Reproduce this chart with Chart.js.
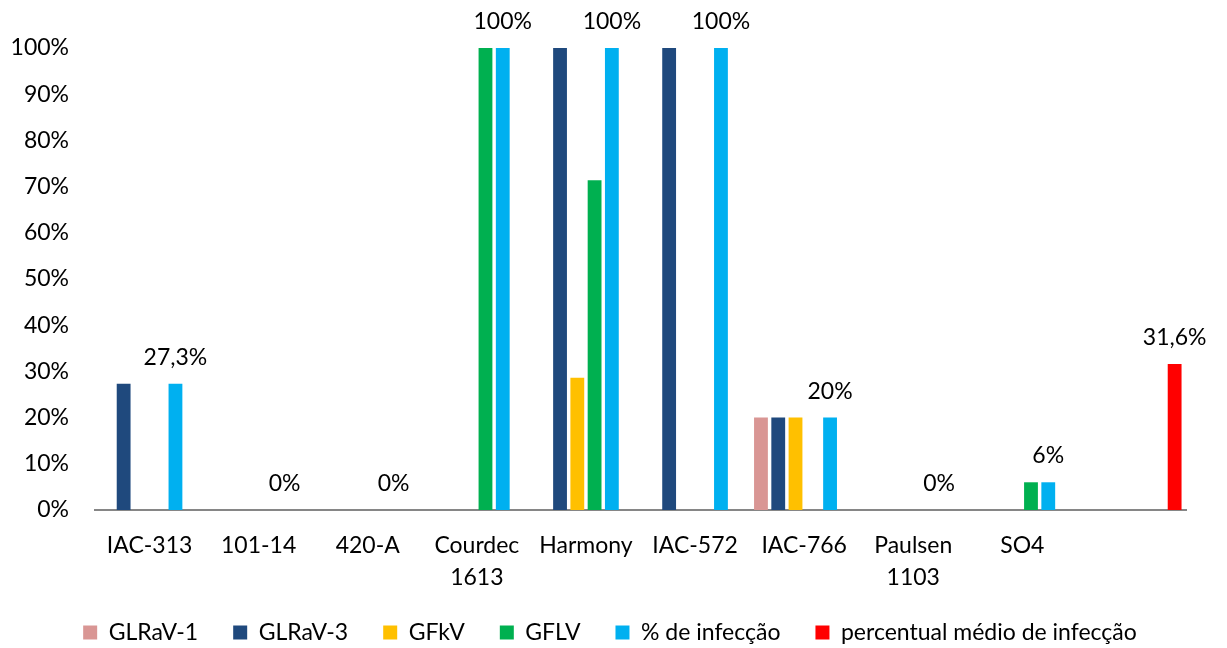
<!DOCTYPE html>
<html>
<head>
<meta charset="utf-8">
<script src="https://cdn.jsdelivr.net/npm/chart.js@4/dist/chart.umd.min.js"></script>
<style>
  body { margin: 0; background: #fff; }
</style>
</head>
<body>
<canvas id="myChart" width="1227" height="648"></canvas>
<script>
// Dados do gráfico
var categorias = ['IAC-313', '101-14', '420-A', ['Courdec', '1613'], 'Harmony', 'IAC-572', 'IAC-766', ['Paulsen', '1103'], 'SO4', ''];
var glrav1 = [null, null, null, null, null, null, 20, null, null, null];
var glrav3 = [27.3, null, null, null, 100, 100, 20, null, null, null];
var gfkv = [null, null, null, null, 28.6, null, 20, null, null, null];
var gflv = [null, null, null, 100, 71.4, null, null, null, 6, null];
var infeccao = [27.3, 0, 0, 100, 100, 100, 20, 0, 6, null];
var mediaInfeccao = [null, null, null, null, null, null, null, null, null, 31.6];
var yTicks = [0, 10, 20, 30, 40, 50, 60, 70, 80, 90, 100];

var fonte = 'Lato, "Open Sans", sans-serif';

// Rótulos de dados acima das barras de infecção
var rotulos = {
    id: 'rotulos',
    afterLayout: function (chart) {
        // legenda um pouco deslocada para a direita, como no original
        chart.legend.left += 12;
        chart.legend.right += 12;
    },
    afterDatasetsDraw: function (chart) {
        var ctx = chart.ctx;
        ctx.save();
        ctx.font = '23px ' + fonte;
        ctx.fillStyle = '#000';
        ctx.textAlign = 'center';
        ctx.textBaseline = 'alphabetic';
        [4, 5].forEach(function (di) {
            var meta = chart.getDatasetMeta(di);
            var dados = chart.data.datasets[di].data;
            meta.data.forEach(function (el, i) {
                if (dados[i] === null) return;
                var txt = String(dados[i]).replace('.', ',') + '%';
                ctx.fillText(txt, el.x, el.y - 19);
            });
        });
        ctx.restore();
    }
};

var config = {
    type: 'bar',
    data: {
        labels: categorias,
        datasets: [
            { label: 'GLRaV-1', data: glrav1, backgroundColor: '#D99694' },
            { label: 'GLRaV-3', data: glrav3, backgroundColor: '#1F497D' },
            { label: 'GFkV', data: gfkv, backgroundColor: '#FFC000' },
            { label: 'GFLV', data: gflv, backgroundColor: '#00B050' },
            { label: '% de infecção', data: infeccao, backgroundColor: '#00B0F0' },
            { label: 'percentual médio de infecção', data: mediaInfeccao, backgroundColor: '#FF0000' }
        ]
    },
    options: {
        responsive: false,
        animation: false,
        barPercentage: 0.8,
        categoryPercentage: 0.95,
        layout: { padding: { left: 10, right: 41, top: 48, bottom: 0 } },
        plugins: {
            legend: {
                position: 'bottom',
                maxHeight: 62,
                labels: {
                    font: { family: fonte, size: 23 },
                    color: '#000',
                    boxWidth: 14,
                    boxHeight: 14,
                    padding: 35
                }
            },
            tooltip: { enabled: false }
        },
        scales: {
            x: {
                grid: { display: false, drawTicks: false },
                border: { color: '#868686', width: 2 },
                afterFit: function (axis) { axis.height = 76; },
                ticks: {
                    font: { family: fonte, size: 23, lineHeight: 1.4 },
                    color: '#000',
                    padding: 19,
                    maxRotation: 0,
                    autoSkip: false
                }
            },
            y: {
                min: 0,
                max: 100,
                afterBuildTicks: function (axis) {
                    axis.ticks = yTicks.map(function (v) { return { value: v }; });
                },
                afterFit: function (axis) { axis.width = 85; },
                grid: { display: false, drawTicks: false },
                border: { display: false },
                ticks: {
                    font: { family: fonte, size: 23 },
                    color: '#000',
                    padding: 26,
                    callback: function (v) { return v + '%'; }
                }
            }
        }
    },
    plugins: [rotulos]
};

var ctx = document.getElementById('myChart').getContext('2d');
new Chart(ctx, config);
</script>
</body>
</html>
